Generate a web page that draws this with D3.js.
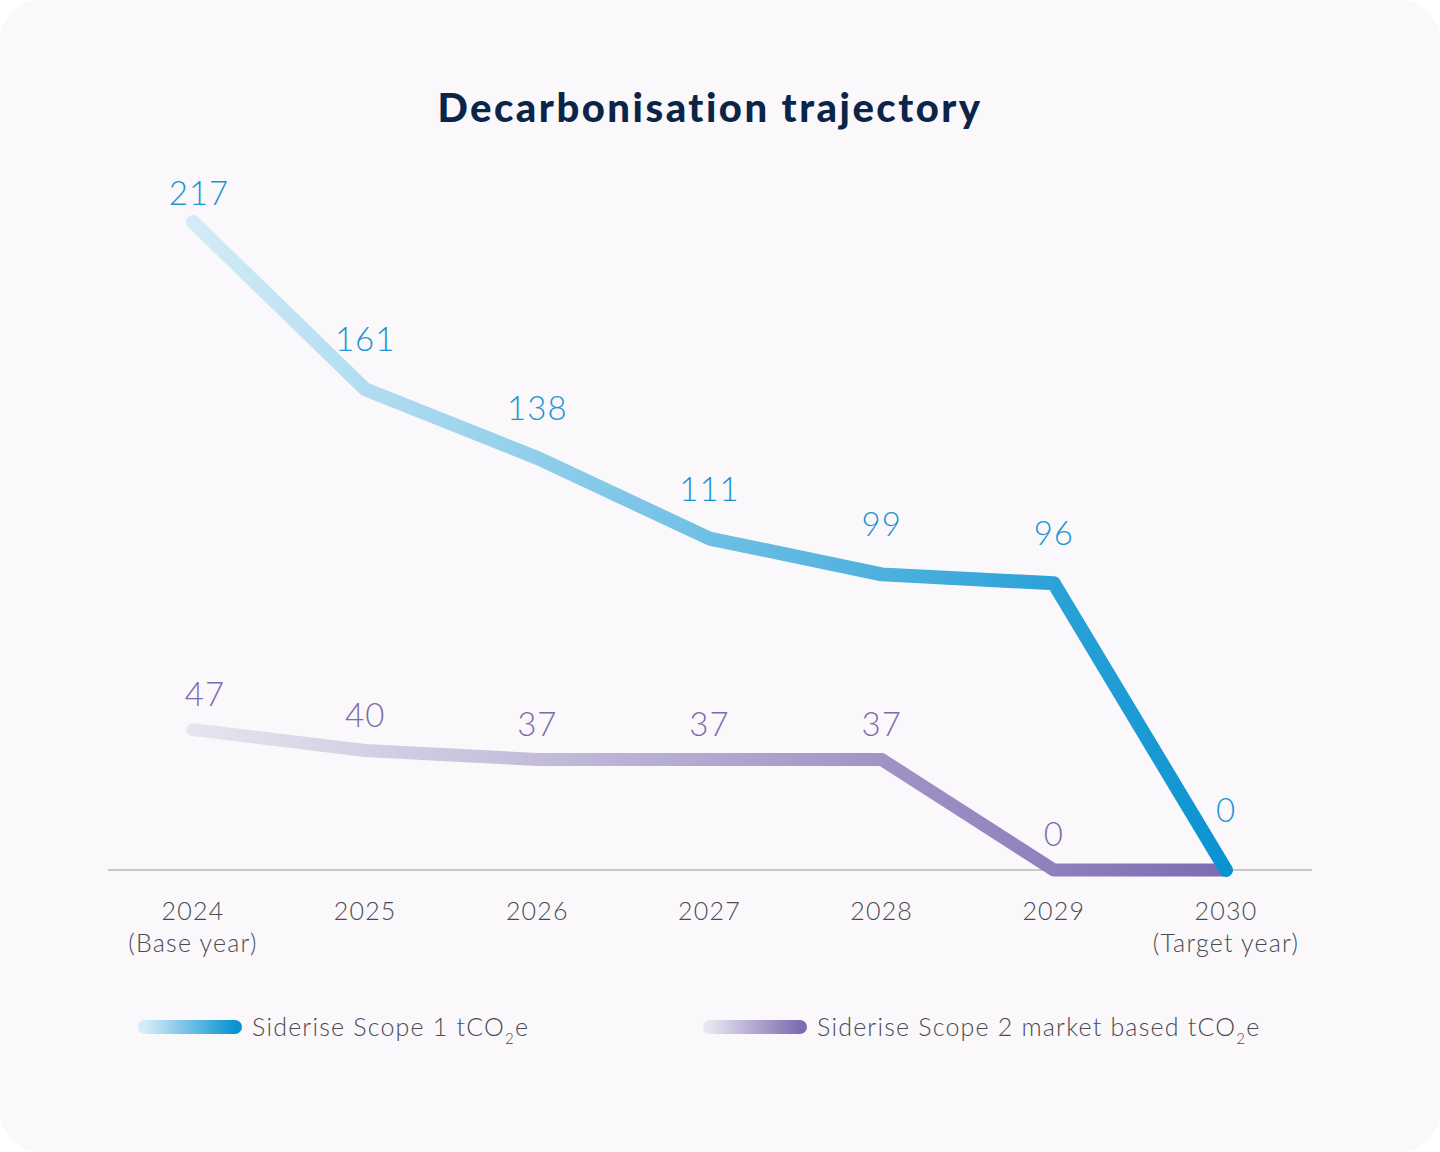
<!DOCTYPE html>
<html><head><meta charset="utf-8">
<script src="https://cdn.jsdelivr.net/npm/d3@7"></script>
<style>body{margin:0;background:#fff;font-family:Lato,"Noto Sans",sans-serif}</style>
</head><body><svg id="c" width="1440" height="1152"></svg>
<script>
const years=["2024","2025","2026","2027","2028","2029","2030"];
const sub=["(Base year)","","","","","","(Target year)"];
const scope1=[217,161,138,111,99,96,0];
const scope2=[47,40,37,37,37,0,0];
const svg=d3.select("#c");
svg.append("rect").attr("x",0).attr("y",0).attr("width",1440).attr("height",1152).attr("rx",40).attr("fill","#faf8fa");
svg.append("text").attr("x",710).attr("y",122).attr("text-anchor","middle").attr("font-size",40).attr("font-weight",900).attr("letter-spacing",2.5).attr("fill","#0b2548").text("Decarbonisation trajectory");
const x=d3.scalePoint().domain(years).range([193,1226]);
const y=d3.scaleLinear().domain([0,217]).range([870,222]);
const defs=svg.append("defs");
function grad(id,c0,c1,x0,x1){const g=defs.append("linearGradient").attr("id",id).attr("gradientUnits","userSpaceOnUse").attr("x1",x0).attr("x2",x1).attr("y1",0).attr("y2",0);
g.append("stop").attr("offset",0).attr("stop-color",c0);g.append("stop").attr("offset",1).attr("stop-color",c1);}
grad("g1","#d3ecf7","#0a93d1",193,1226);grad("g2","#e7e4ee","#7c6cb2",193,1226);
grad("l1","#d3ecf7","#0a93d1",145,235);grad("l2","#e7e4ee","#7c6cb2",710,800);
svg.append("line").attr("x1",108).attr("x2",1312).attr("y1",y(0)).attr("y2",y(0)).attr("stroke","#999").attr("stroke-width",1);
const line=d3.line().x((d,i)=>x(years[i])).y(d=>y(d));
svg.append("path").attr("d",line(scope2)).attr("fill","none").attr("stroke","url(#g2)").attr("stroke-width",13).attr("stroke-linecap","round").attr("stroke-linejoin","round");
svg.append("path").attr("d",line(scope1)).attr("fill","none").attr("stroke","url(#g1)").attr("stroke-width",14).attr("stroke-linecap","round").attr("stroke-linejoin","round");
scope1.forEach((v,i)=>svg.append("text").attr("x",x(years[i])+(i==0?6:0)).attr("y",i==6?y(v)-48:(i==0?y(v)-17:y(v)-38)).attr("text-anchor","middle").attr("font-size",33).attr("font-weight",300).attr("letter-spacing",1).attr("fill","#1b95d2").text(v));
scope2.forEach((v,i)=>{if(i==6)return;svg.append("text").attr("x",x(years[i])+(i==0?12:0)).attr("y",y(v)-24).attr("text-anchor","middle").attr("font-size",33).attr("font-weight",300).attr("letter-spacing",1).attr("fill","#7a6cab").text(v);});
years.forEach((yr,i)=>{const t=svg.append("text").attr("x",x(yr)).attr("y",920).attr("text-anchor","middle").attr("font-size",25).attr("font-weight",300).attr("letter-spacing",1.2).attr("fill","#4a4a52");
t.append("tspan").attr("x",x(yr)).text(yr);if(sub[i])t.append("tspan").attr("x",x(yr)).attr("dy",32).text(sub[i]);});
function leg(x0,id,label){svg.append("line").attr("x1",x0).attr("x2",x0+90).attr("y1",1027).attr("y2",1027).attr("stroke","url(#"+id+")").attr("stroke-width",14).attr("stroke-linecap","round");
const t=svg.append("text").attr("x",x0+107).attr("y",1036).attr("font-size",25).attr("font-weight",300).attr("letter-spacing",1.2).attr("fill","#4a4a52");
t.append("tspan").text(label+" tCO");t.append("tspan").attr("font-size",15).attr("dy",8).text("2");t.append("tspan").attr("dy",-8).text("e");}
leg(145,"l1","Siderise Scope 1");leg(710,"l2","Siderise Scope 2 market based");
</script></body></html>
